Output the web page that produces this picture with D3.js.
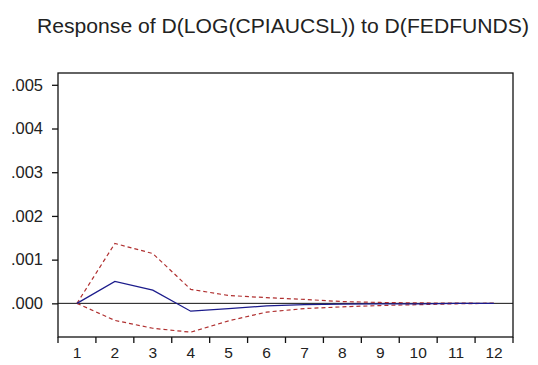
<!DOCTYPE html>
<meta charset="utf-8">
<script src="https://cdn.jsdelivr.net/npm/d3@7"></script>
<style>
body { margin: 0; background: #fff; }
text { font-family: "Liberation Sans", Arial, sans-serif; fill: #222; }
.resp { fill: none; stroke: #1c1c8c; stroke-width: 1.3px; }
.band { fill: none; stroke: #b03030; stroke-width: 1.2px; stroke-dasharray: 4,3; }
</style>
<body>
<script>
// periods and impulse response values
var periods = [1, 2, 3, 4, 5, 6, 7, 8, 9, 10, 11, 12];
var response = [0, 0.00050, 0.00030, -0.00018, -0.00012, -0.00006, -0.00003, -0.00002, -0.00001, -0.00001, 0, 0];
var upper = [0, 0.00137, 0.00114, 0.00032, 0.00018, 0.00013, 0.00009, 0.00004, 0.00002, 0.00001, 0.000005, 0];
var lower = [0, -0.00039, -0.00057, -0.00066, -0.00040, -0.00020, -0.00012, -0.00008, -0.00005, -0.00003, -0.00001, 0];
var yTicks = [0, 0.001, 0.002, 0.003, 0.004, 0.005];

var margin = {top: 73, right: 25, bottom: 28, left: 58},
    width = 538 - margin.left - margin.right,
    height = 365 - margin.top - margin.bottom;

var svg = d3.select("body").append("svg")
    .attr("width", 538)
    .attr("height", 365);

svg.append("text")
    .attr("x", 37)
    .attr("y", 33)
    .attr("textLength", 492)
    .attr("lengthAdjust", "spacingAndGlyphs")
    .style("font-size", "21px")
    .text("Response of D(LOG(CPIAUCSL)) to D(FEDFUNDS)");

var g = svg.append("g")
    .attr("transform", "translate(" + margin.left + "," + margin.top + ")");

var x = d3.scaleBand().domain(periods).range([0, width]);
var y = d3.scaleLinear().domain([-0.00077, 0.00527]).range([height, 0]);

// frame
g.append("rect")
    .attr("width", width)
    .attr("height", height)
    .attr("fill", "none")
    .attr("stroke", "#111")
    .attr("stroke-width", 1.3);

// zero line
g.append("line")
    .attr("x1", 0).attr("x2", width)
    .attr("y1", y(0)).attr("y2", y(0))
    .attr("stroke", "#111")
    .attr("stroke-width", 1);

// y axis
var yAxis = g.append("g")
    .call(d3.axisLeft(y).tickValues(yTicks).tickSize(6).tickPadding(9)
      .tickFormat(function(d) { return d3.format(".3f")(d).replace(/^0/, ""); }));
yAxis.select(".domain").remove();
yAxis.selectAll("line").attr("stroke", "#111").attr("stroke-width", 1.3);
yAxis.selectAll("text").style("font-size", "16.5px").attr("fill", "#222");

// x axis: ticks at band edges, labels at band centres
var xAxis = g.append("g")
    .attr("transform", "translate(0," + height + ")")
    .call(d3.axisBottom(x).tickSize(0).tickPadding(10));
xAxis.select(".domain").remove();
xAxis.selectAll("text").style("font-size", "15.5px").attr("fill", "#222");
xAxis.selectAll(".edge")
    .data(periods)
  .enter().append("line")
    .attr("x1", function(d) { return x(d) + x.bandwidth(); })
    .attr("x2", function(d) { return x(d) + x.bandwidth(); })
    .attr("y1", 0).attr("y2", 6)
    .attr("stroke", "#111")
    .attr("stroke-width", 1.3);
xAxis.append("line")
    .attr("x1", 0).attr("x2", 0).attr("y1", 0).attr("y2", 6)
    .attr("stroke", "#111").attr("stroke-width", 1.3);

var line = d3.line()
    .x(function(d, i) { return x(periods[i]) + x.bandwidth() / 2; })
    .y(function(d) { return y(d); });

g.append("path").datum(upper).attr("class", "band").attr("d", line);
g.append("path").datum(lower).attr("class", "band").attr("d", line);
g.append("path").datum(response).attr("class", "resp").attr("d", line);
</script>
</body>
